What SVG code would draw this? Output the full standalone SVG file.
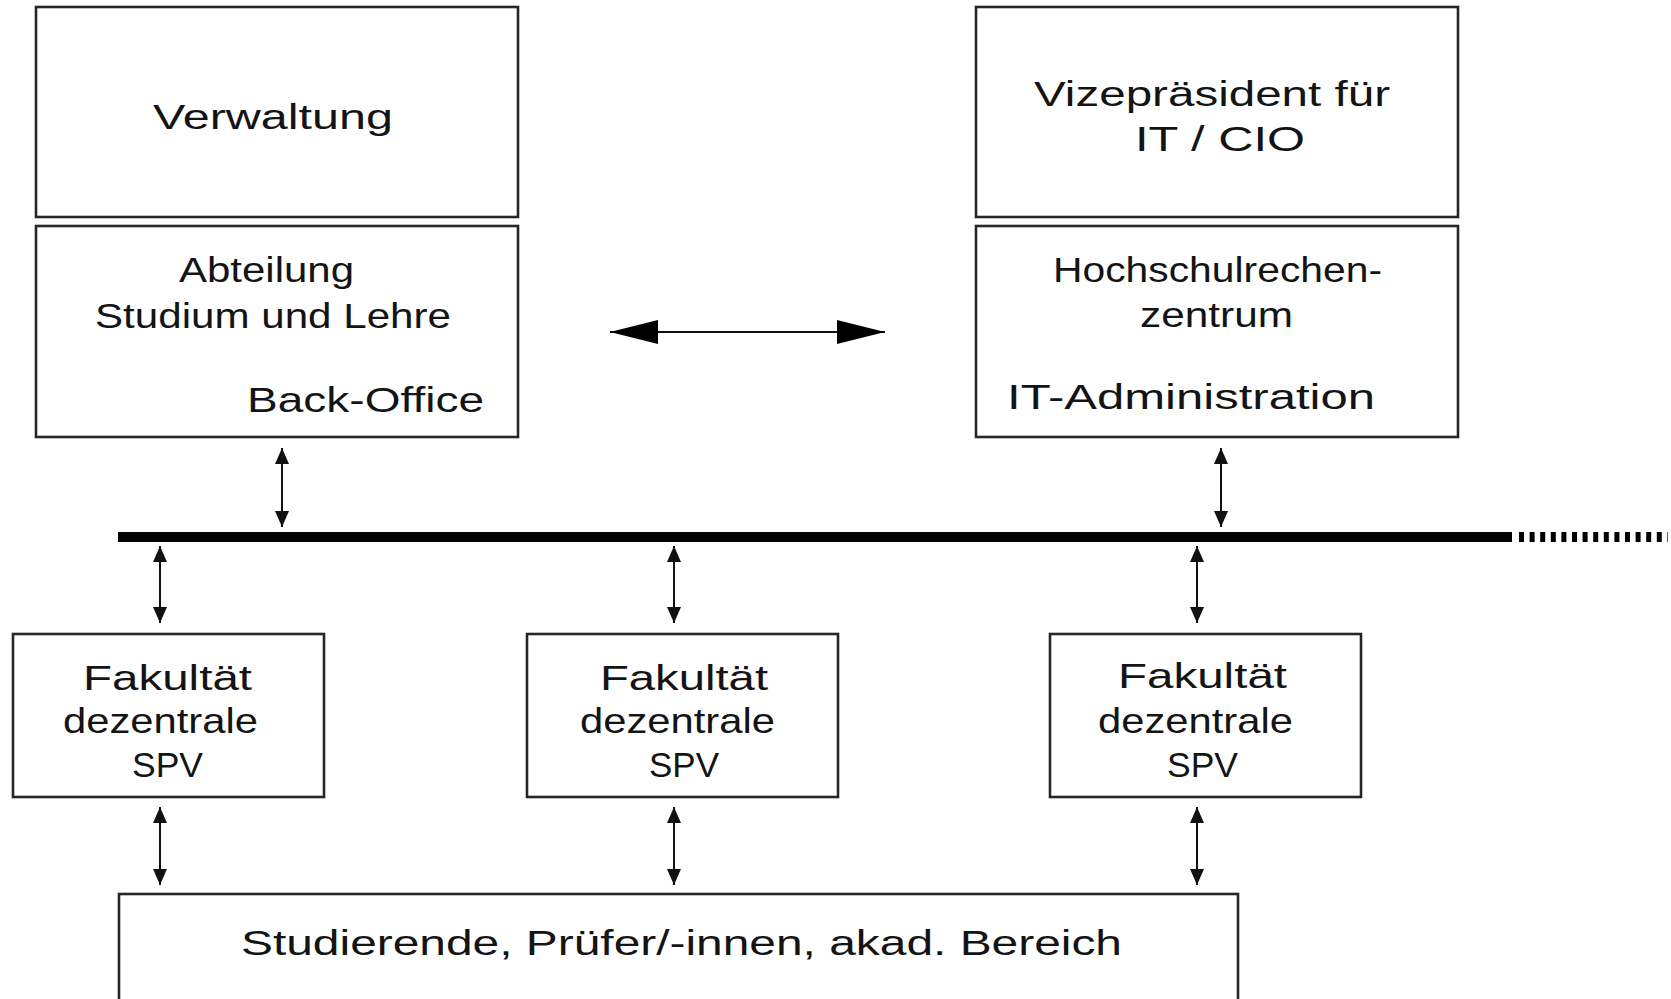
<svg xmlns="http://www.w3.org/2000/svg" width="1671" height="999" viewBox="0 0 1671 999">
  <style>
    .box { fill: #ffffff; stroke: #262626; stroke-width: 2.6; }
    .lbl { font-family: "Liberation Sans", Arial, sans-serif; font-size: 35px; fill: #141414; }
    .link { stroke: #111111; stroke-width: 2; fill: none; }
  </style>
  <defs>
    <marker id="tip" markerUnits="userSpaceOnUse" markerWidth="16" markerHeight="14" refX="16" refY="7" orient="auto-start-reverse">
      <path d="M0,0 L16,7 L0,14 Z" fill="#111111"/>
    </marker>
    <marker id="bigtip" markerUnits="userSpaceOnUse" markerWidth="48" markerHeight="24" refX="48" refY="12" orient="auto-start-reverse">
      <path d="M0,0 L48,12 L0,24 Z" fill="#000000"/>
    </marker>
  </defs>

  <rect width="1671" height="999" fill="#ffffff"/>

  <!-- central administration -->
  <g id="verwaltung">
    <rect class="box" x="36" y="7" width="482" height="210"/>
    <text class="lbl" x="153" y="129" textLength="240" lengthAdjust="spacingAndGlyphs">Verwaltung</text>
  </g>
  <g id="abteilung">
    <rect class="box" x="36" y="226" width="482" height="211"/>
    <text class="lbl" x="179" y="282" textLength="175" lengthAdjust="spacingAndGlyphs">Abteilung</text>
    <text class="lbl" x="95" y="328" textLength="356" lengthAdjust="spacingAndGlyphs">Studium und Lehre</text>
    <text class="lbl" x="247" y="412" textLength="237" lengthAdjust="spacingAndGlyphs">Back-Office</text>
  </g>

  <!-- IT side -->
  <g id="cio">
    <rect class="box" x="976" y="7" width="482" height="210"/>
    <text class="lbl" x="1034" y="106" textLength="356" lengthAdjust="spacingAndGlyphs">Vizepräsident für</text>
    <text class="lbl" x="1135" y="151" textLength="170" lengthAdjust="spacingAndGlyphs">IT / CIO</text>
  </g>
  <g id="rechenzentrum">
    <rect class="box" x="976" y="226" width="482" height="211"/>
    <text class="lbl" x="1053" y="282" textLength="329" lengthAdjust="spacingAndGlyphs">Hochschulrechen-</text>
    <text class="lbl" x="1140" y="327" textLength="153" lengthAdjust="spacingAndGlyphs">zentrum</text>
    <text class="lbl" x="1007" y="409" textLength="368" lengthAdjust="spacingAndGlyphs">IT-Administration</text>
  </g>

  <!-- faculties -->
  <g id="fakultaet-1">
    <rect class="box" x="13" y="634" width="311" height="163"/>
    <text class="lbl" x="83" y="690" textLength="169" lengthAdjust="spacingAndGlyphs">Fakultät</text>
    <text class="lbl" x="63" y="733" textLength="195" lengthAdjust="spacingAndGlyphs">dezentrale</text>
    <text class="lbl" x="132" y="777" textLength="71" lengthAdjust="spacingAndGlyphs">SPV</text>
  </g>
  <g id="fakultaet-2">
    <rect class="box" x="527" y="634" width="311" height="163"/>
    <text class="lbl" x="600" y="690" textLength="168" lengthAdjust="spacingAndGlyphs">Fakultät</text>
    <text class="lbl" x="580" y="733" textLength="195" lengthAdjust="spacingAndGlyphs">dezentrale</text>
    <text class="lbl" x="649" y="777" textLength="70" lengthAdjust="spacingAndGlyphs">SPV</text>
  </g>
  <g id="fakultaet-3">
    <rect class="box" x="1050" y="634" width="311" height="163"/>
    <text class="lbl" x="1118" y="688" textLength="169" lengthAdjust="spacingAndGlyphs">Fakultät</text>
    <text class="lbl" x="1098" y="733" textLength="195" lengthAdjust="spacingAndGlyphs">dezentrale</text>
    <text class="lbl" x="1167" y="777" textLength="71" lengthAdjust="spacingAndGlyphs">SPV</text>
  </g>

  <!-- users -->
  <g id="nutzer">
    <rect class="box" x="119" y="894" width="1119" height="112"/>
    <text class="lbl" x="241" y="955" textLength="881" lengthAdjust="spacingAndGlyphs">Studierende, Prüfer/-innen, akad. Bereich</text>
  </g>

  <!-- connectors -->
  <g id="connectors">
    <!-- shared bus -->
    <line x1="118" y1="537" x2="1512" y2="537" stroke="#000000" stroke-width="10"/>
    <line x1="1519" y1="537" x2="1668" y2="537" stroke="#000000" stroke-width="10" stroke-dasharray="5 5.6"/>

    <!-- horizontal link between administration and IT -->
    <line class="link" x1="610" y1="332" x2="885" y2="332" marker-start="url(#bigtip)" marker-end="url(#bigtip)"/>

    <!-- upper boxes to bus -->
    <line class="link" x1="282" y1="448" x2="282" y2="527" marker-start="url(#tip)" marker-end="url(#tip)"/>
    <line class="link" x1="1221" y1="448" x2="1221" y2="527" marker-start="url(#tip)" marker-end="url(#tip)"/>

    <!-- bus to faculties -->
    <line class="link" x1="160" y1="546" x2="160" y2="623" marker-start="url(#tip)" marker-end="url(#tip)"/>
    <line class="link" x1="674" y1="546" x2="674" y2="623" marker-start="url(#tip)" marker-end="url(#tip)"/>
    <line class="link" x1="1197" y1="546" x2="1197" y2="623" marker-start="url(#tip)" marker-end="url(#tip)"/>

    <!-- faculties to users -->
    <line class="link" x1="160" y1="807" x2="160" y2="885" marker-start="url(#tip)" marker-end="url(#tip)"/>
    <line class="link" x1="674" y1="807" x2="674" y2="885" marker-start="url(#tip)" marker-end="url(#tip)"/>
    <line class="link" x1="1197" y1="807" x2="1197" y2="885" marker-start="url(#tip)" marker-end="url(#tip)"/>
  </g>
</svg>
